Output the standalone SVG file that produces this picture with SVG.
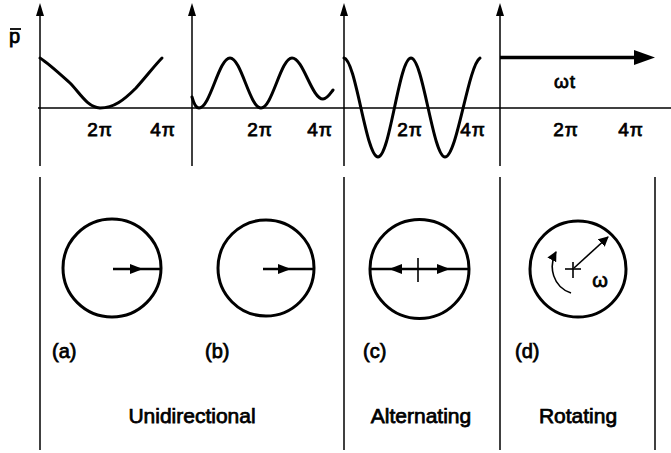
<svg xmlns="http://www.w3.org/2000/svg" width="671" height="453" viewBox="0 0 671 453">
<defs>
<style>
.ax{stroke:#000;stroke-width:1.5;fill:none}
.cv{stroke:#000;stroke-width:3;fill:none;stroke-linejoin:round;stroke-linecap:round}
.ci{stroke:#000;stroke-width:3;fill:none}
.thin{stroke:#000;stroke-width:1.6;fill:none}
.hd{fill:#000;stroke:none}
text{font-family:"Liberation Sans",Arial,Helvetica,sans-serif;fill:#000;stroke:#000;stroke-width:0.75}
.tk{font-size:19px;text-anchor:middle;letter-spacing:1px}
.lb{font-size:20px}
.cap{font-size:21px;text-anchor:middle}
</style>
<marker id="ah" viewBox="0 0 10 10" refX="9" refY="5" markerWidth="10" markerHeight="10" markerUnits="userSpaceOnUse" orient="auto">
<path d="M0,0 L10,5 L0,10 Z" fill="#000"/>
</marker>
</defs>

<g id="axes">
<line class="ax" x1="40" y1="8" x2="40" y2="166"/>
<line class="ax" x1="192" y1="8" x2="192" y2="166"/>
<line class="ax" x1="344" y1="8" x2="344" y2="166"/>
<line class="ax" x1="500" y1="8" x2="500" y2="166"/>
<polygon class="hd" points="36,16 40,3 44,16"/>
<polygon class="hd" points="188,16 192,3 196,16"/>
<polygon class="hd" points="340,16 344,3 348,16"/>
<polygon class="hd" points="496,16 500,3 504,16"/>
<line class="ax" x1="38" y1="108" x2="671" y2="108"/>
<line class="ax" x1="40" y1="177" x2="40" y2="450"/>
<line class="ax" x1="344" y1="177" x2="344" y2="450"/>
<line class="ax" x1="500" y1="177" x2="500" y2="450"/>
<line class="ax" x1="655" y1="177" x2="655" y2="450"/>
</g>

<g id="ylabel">
<text class="lb" x="9" y="43" font-size="19">p</text>
<line x1="10" y1="29" x2="21" y2="29" stroke="#000" stroke-width="1.8"/>
</g>

<g id="curves">
<path class="cv" d="M40,58 C48,63 60,74 70,83 C80,93 87,107 100,108 C114,108 124,100 136,88 C146,77 155,65 162,58"/>
<path class="cv" d="M192,97 Q195,108 199,108 C210.3,108 218.7,58 230,58 C241.3,58 249.7,108 261,108 C272.3,108 280.7,58 292,58 C303.3,58 311.7,99 323,99 C327,99 330,94 333,90"/>
<path class="cv" d="M344,58 C356,60 366,157 378,157 C390,157 399,58 411,58 C423,58 433,157 445,157 C457,157 468,66 480,58"/>
<line x1="500" y1="57.5" x2="640" y2="57.5" stroke="#000" stroke-width="3.5"/>
<polygon class="hd" points="634,50 655,57.5 634,65"/>
</g>

<g id="ticks">
<text class="tk" x="100" y="136">2π</text>
<text class="tk" x="163" y="136">4π</text>
<text class="tk" x="260" y="136">2π</text>
<text class="tk" x="320" y="136">4π</text>
<text class="tk" x="410" y="136">2π</text>
<text class="tk" x="473" y="136">4π</text>
<text class="tk" x="566" y="136">2π</text>
<text class="tk" x="631" y="136">4π</text>
<text class="tk" x="565" y="88">ωt</text>
</g>

<g id="circle-a">
<circle class="ci" cx="112" cy="268" r="49"/>
<line x1="113" y1="269" x2="161" y2="269" stroke="#000" stroke-width="2.5"/>
<polygon class="hd" points="130,264 143,269 130,274"/>
<text class="lb" x="52" y="358">(a)</text>
</g>

<g id="circle-b">
<circle class="ci" cx="266" cy="268" r="48"/>
<line x1="263" y1="269" x2="313" y2="269" stroke="#000" stroke-width="2.5"/>
<polygon class="hd" points="278,264 291,269 278,274"/>
<text class="lb" x="205" y="358">(b)</text>
</g>

<g id="circle-c">
<circle class="ci" cx="419.5" cy="269" r="49.5"/>
<line x1="370" y1="269" x2="469" y2="269" stroke="#000" stroke-width="2.5"/>
<polygon class="hd" points="402,264 389,269 402,274"/>
<polygon class="hd" points="437,264 450,269 437,274"/>
<line class="thin" x1="418" y1="258" x2="418" y2="282"/>
<text class="lb" x="363" y="358">(c)</text>
</g>

<g id="circle-d">
<circle class="ci" cx="578" cy="269" r="48"/>
<line class="thin" x1="565" y1="269" x2="581" y2="269"/>
<line class="thin" x1="573" y1="262" x2="573" y2="278"/>
<line class="thin" x1="574" y1="268" x2="608" y2="237" marker-end="url(#ah)"/>
<path class="thin" d="M571,293 C553,287 548,267 556,252" marker-end="url(#ah)"/>
<text class="lb" x="600" y="287" text-anchor="middle">ω</text>
<text class="lb" x="515" y="358">(d)</text>
</g>

<g id="captions">
<text class="cap" x="192" y="423">Unidirectional</text>
<text class="cap" x="421" y="423">Alternating</text>
<text class="cap" x="578" y="423">Rotating</text>
</g>
</svg>
